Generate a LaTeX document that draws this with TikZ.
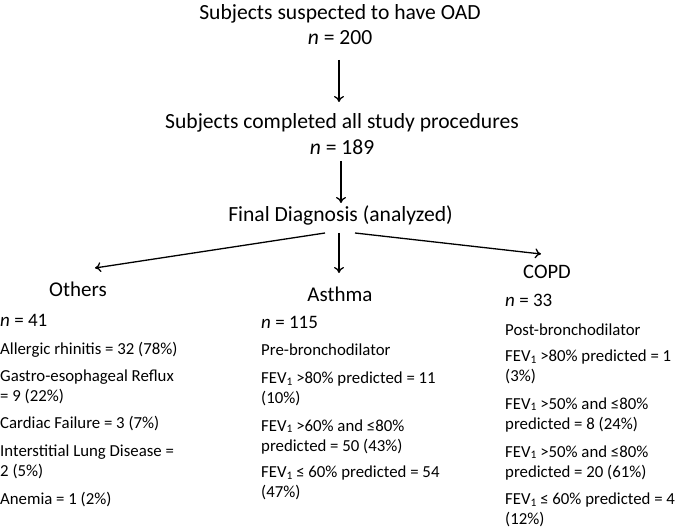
\documentclass[tikz,border=0pt]{standalone}
\usepackage{fontspec}
\setmainfont{Carlito}
\usetikzlibrary{arrows.meta}
\newcommand{\fevone}{FEV\raisebox{-1.5pt}{\fontsize{11.5}{12}\selectfont 1}}
\begin{document}
\begin{tikzpicture}[x=1pt,y=1pt,
 head/.style={font=\fontsize{21.6}{25.5}\selectfont, inner sep=0, align=center},
 cat/.style={font=\fontsize{21}{24}\selectfont, inner sep=0},
 nn/.style={font=\fontsize{19}{22}\selectfont, inner sep=0, anchor=west},
 item/.style={font=\fontsize{16.8}{20}\selectfont, inner sep=0, anchor=west, align=left},
 arr/.style={-{To[length=6pt,width=10pt]}, line width=1.3pt}]
\useasboundingbox (0,0) rectangle (675,529);

\node[head] (h1) at (340,504.5) {Subjects suspected to have OAD\\\textit{n} = 200};
\node[head] (h2) at (342,395) {Subjects completed all study procedures\\\textit{n} = 189};
\node[head] (h3) at (340.5,314) {Final Diagnosis (analyzed)};

\node[cat] (oth) at (78,240) {Others};
\node[cat] (ast) at (340,235) {Asthma};
\node[cat,font=\fontsize{20.5}{24}\selectfont] (cop) at (547,257) {COPD};

\coordinate (a1s) at (339,469);
\coordinate (a1e) at (339,427);
\draw[arr] (a1s) -- (a1e);
\coordinate (a2s) at (341,368);
\coordinate (a2e) at (341,326);
\draw[arr] (a2s) -- (a2e);
\coordinate (dl) at (325,296);
\coordinate (dm) at (339,296);
\coordinate (dr) at (355,296);
\coordinate (el) at (95,261);
\coordinate (em) at (339,256);
\coordinate (er) at (541,275);
\draw[arr] (dl) -- (el);
\draw[arr] (dm) -- (em);
\draw[arr] (dr) -- (er);

% Others column
\node[nn] (on) at (0,209) {\textit{n} = 41};
\node[item] (o1) at (0,179) {Allergic rhinitis = 32 (78\%)};
\node[item] (o2) at (0,142) {Gastro-esophageal Reflux\\= 9 (22\%)};
\node[item] (o3) at (0,105) {Cardiac Failure = 3 (7\%)};
\node[item] (o4) at (0,67) {Interstitial Lung Disease =\\2 (5\%)};
\node[item] (o5) at (0,29) {Anemia = 1 (2\%)};

% Asthma column
\node[nn] (an) at (261,207) {\textit{n} = 115};
\node[item] (a0) at (261,179) {Pre-bronchodilator};
\node[item] (a1) at (261,140) {\fevone{} >80\% predicted = 11\\(10\%)};
\node[item] (a2) at (261,92) {\fevone{} >60\% and ≤80\%\\predicted = 50 (43\%)};
\node[item] (a3) at (261,46) {\fevone{} ≤ 60\% predicted = 54\\(47\%)};

% COPD column
\node[nn] (cn) at (505,229) {\textit{n} = 33};
\node[item] (c0) at (505,199) {Post-bronchodilator};
\node[item] (c1) at (505,162) {\fevone{} >80\% predicted = 1\\(3\%)};
\node[item] (c2) at (505,114) {\fevone{} >50\% and ≤80\%\\predicted = 8 (24\%)};
\node[item] (c3) at (505,66) {\fevone{} >50\% and ≤80\%\\predicted = 20 (61\%)};
\node[item] (c4) at (505,19) {\fevone{} ≤ 60\% predicted = 4\\(12\%)};
\end{tikzpicture}
\end{document}
